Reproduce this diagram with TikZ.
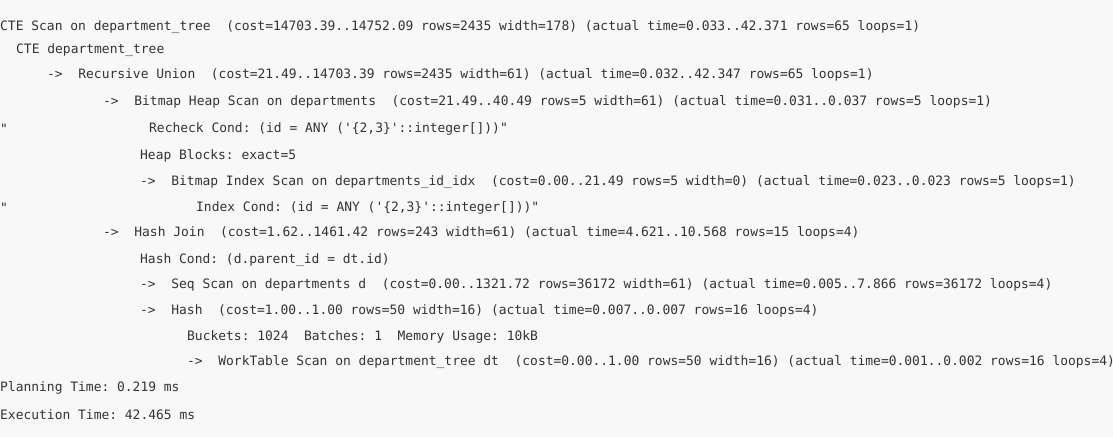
\documentclass[tikz,border=0pt]{standalone}
\usepackage{fontspec}
\setmonofont{DejaVu Sans Mono}
\definecolor{plantext}{RGB}{51,51,51}
\definecolor{planbg}{RGB}{248,248,248}

\begin{document}
\begin{tikzpicture}[x=1pt,y=1pt,
        planline/.style={anchor=west,inner sep=0pt,text=plantext,font=\ttfamily\fontsize{12.95}{16}\selectfont}]
        \fill[planbg] (0,0) rectangle (1113,-437);
        \useasboundingbox (0,0) rectangle (1113,-437);
        \node (l1) [planline] at (0,-27) {CTE Scan on department\_tree~ (cost=14703.39..14752.09 rows=2435 width=178) (actual time=0.033..42.371 rows=65 loops=1)};
        \node (l2) [planline] at (16,-50) {CTE department\_tree};
        \node (l3) [planline] at (47,-75) {->~ Recursive Union~ (cost=21.49..14703.39 rows=2435 width=61) (actual time=0.032..42.347 rows=65 loops=1)};
        \node (l4) [planline] at (103,-102) {->~ Bitmap Heap Scan on departments~ (cost=21.49..40.49 rows=5 width=61) (actual time=0.031..0.037 rows=5 loops=1)};
        \node (q5) [planline] at (0,-129) {"};
        \node (l5) [planline] at (149,-129) {Recheck Cond: (id = ANY ('\{2,3\}'::integer[]))"};
        \node (l6) [planline] at (140,-156) {Heap Blocks: exact=5};
        \node (l7) [planline] at (140,-182) {->~ Bitmap Index Scan on departments\_id\_idx~ (cost=0.00..21.49 rows=5 width=0) (actual time=0.023..0.023 rows=5 loops=1)};
        \node (q8) [planline] at (0,-208) {"};
        \node (l8) [planline] at (196,-208) {Index Cond: (id = ANY ('\{2,3\}'::integer[]))"};
        \node (l9) [planline] at (103,-233) {->~ Hash Join~ (cost=1.62..1461.42 rows=243 width=61) (actual time=4.621..10.568 rows=15 loops=4)};
        \node (l10) [planline] at (140,-260) {Hash Cond: (d.parent\_id = dt.id)};
        \node (l11) [planline] at (140,-285) {->~ Seq Scan on departments d~ (cost=0.00..1321.72 rows=36172 width=61) (actual time=0.005..7.866 rows=36172 loops=4)};
        \node (l12) [planline] at (140,-311) {->~ Hash~ (cost=1.00..1.00 rows=50 width=16) (actual time=0.007..0.007 rows=16 loops=4)};
        \node (l13) [planline] at (187,-337) {Buckets: 1024~ Batches: 1~ Memory Usage: 10kB};
        \node (l14) [planline] at (187,-362) {->~ WorkTable Scan on department\_tree dt~ (cost=0.00..1.00 rows=50 width=16) (actual time=0.001..0.002 rows=16 loops=4)};
        \node (l15) [planline] at (0,-388) {Planning Time: 0.219 ms};
        \node (l16) [planline] at (0,-415) {Execution Time: 42.465 ms};
\end{tikzpicture}
\end{document}
